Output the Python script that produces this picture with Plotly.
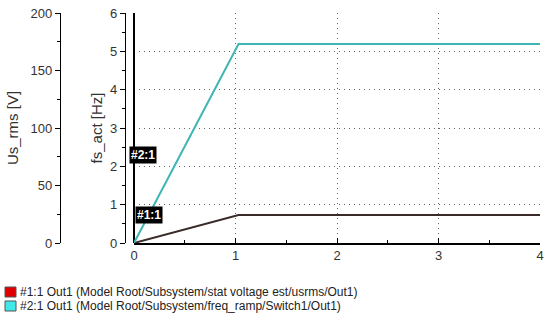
import plotly.graph_objects as go

# ---- data ----
time_s = [0.0, 1.03, 4.0]
us_rms_v = [0.0, 24.3, 24.3]          # #1:1 Out1 (stat voltage est/usrms)
fs_act_hz = [0.0, 5.19, 5.19]         # #2:1 Out1 (freq_ramp/Switch1)
series_tags = ["#1:1", "#2:1"]
legend_labels = [
    "#1:1 Out1 (Model Root/Subsystem/stat voltage est/usrms/Out1)",
    "#2:1 Out1 (Model Root/Subsystem/freq_ramp/Switch1/Out1)",
]
x_ticks = [0, 1, 2, 3, 4]
us_ticks = [0, 50, 100, 150, 200]
fs_ticks = [0, 1, 2, 3, 4, 5, 6]

W, H = 547, 320
ML, MR, MT, MB = 0, 7, 13, 77
PW = W - ML - MR
PH = H - MT - MB
FONT = "Liberation Sans, Arial, sans-serif"
TICKFONT = dict(family=FONT, size=13, color="#333333")
TITLEFONT = dict(family=FONT, size=15, color="#333333")
GRID = dict(showgrid=True, gridcolor="#666666", griddash="1px,4px", gridwidth=1)

fig = go.Figure()
fig.add_trace(go.Scatter(x=time_s, y=us_rms_v, yaxis="y", mode="lines",
                         line=dict(color="#3a2a2a", width=2), showlegend=False, cliponaxis=False))
fig.add_trace(go.Scatter(x=time_s, y=fs_act_hz, yaxis="y2", mode="lines",
                         line=dict(color="#3fb5b5", width=2), showlegend=False, cliponaxis=False))

x0_px = 134
fig.update_layout(
    width=W, height=H,
    margin=dict(l=ML, r=MR, t=MT, b=MB, autoexpand=False),
    paper_bgcolor="white", plot_bgcolor="white",
    showlegend=False,
    xaxis=dict(domain=[x0_px / PW, 1], range=[0, 4], tickvals=x_ticks, automargin=False,
               **GRID,
               zeroline=True, zerolinecolor="black", zerolinewidth=1.5,
               showline=True, linecolor="black", linewidth=1.5,
               ticks="inside", ticklen=5, tickcolor="black",
               minor=dict(dtick=0.5, ticks="inside", ticklen=3, tickcolor="black", showgrid=False),
               tickfont=TICKFONT, anchor="y2"),
    yaxis=dict(range=[0, 200], tickvals=us_ticks, anchor="free", position=60 / PW, automargin=False,
               showgrid=False, zeroline=False,
               showline=True, linecolor="black", linewidth=1.2,
               ticks="outside", ticklen=5, tickcolor="black",
               minor=dict(dtick=25, ticks="outside", ticklen=3, tickcolor="black"),
               tickfont=TICKFONT,
               title=dict(text="Us_rms [V]", font=TITLEFONT, standoff=7)),
    yaxis2=dict(range=[0, 6], tickvals=fs_ticks, anchor="free", position=125 / PW, automargin=False,
                overlaying="y", side="left",
                **GRID,
                zeroline=False,
                showline=True, linecolor="black", linewidth=1.2,
                ticks="outside", ticklen=5, tickcolor="black",
                minor=dict(dtick=0.5, ticks="outside", ticklen=3, tickcolor="black", showgrid=False),
                tickfont=TICKFONT,
                title=dict(text="fs_act [Hz]", font=TITLEFONT, standoff=2)),
)

# series tag labels
fig.add_annotation(x=0, xref="x", y=2.3, yref="y2", text="<b>" + series_tags[1] + "</b>",
                   showarrow=False, xanchor="right", xshift=23, bgcolor="black",
                   font=dict(family=FONT, size=12, color="white"), borderpad=1)
fig.add_annotation(x=0, xref="x", y=0.74, yref="y2", text="<b>" + series_tags[0] + "</b>",
                   showarrow=False, xanchor="left", xshift=1, bgcolor="black",
                   font=dict(family=FONT, size=12, color="white"), borderpad=1)

# legend (drawn)
leg_colors = ["#e00000", "#40e8e8"]
for i, (lab, col) in enumerate(zip(legend_labels, leg_colors)):
    ytop = 287 + i * 14
    fig.add_shape(type="rect", xref="paper", yref="paper",
                  x0=5 / PW, x1=16 / PW,
                  y0=(H - MB - (ytop + 10)) / PH, y1=(H - MB - ytop) / PH,
                  fillcolor=col, line=dict(color="#555555", width=1))
    fig.add_annotation(x=18 / PW, xref="paper", y=(H - MB - (ytop + 5)) / PH, yref="paper",
                       text=lab, showarrow=False, xanchor="left", yanchor="middle",
                       font=dict(family=FONT, size=12, color="#222222"))

fig.write_html("out.html", config={"displayModeBar": False},
               post_script="document.body.style.margin='0';document.body.style.overflow='hidden';")
